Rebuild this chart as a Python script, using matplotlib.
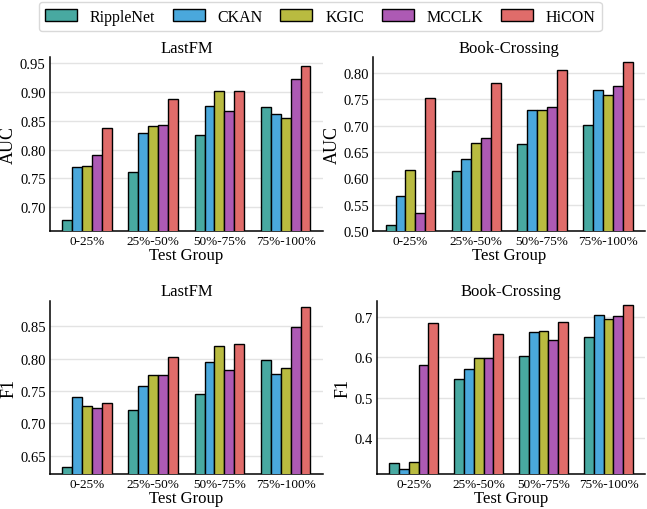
import matplotlib
matplotlib.use("Agg")
import matplotlib.pyplot as plt
import numpy as np

plt.rcParams["font.family"] = ["Liberation Serif", "DejaVu Serif"]

groups = ["0-25%", "25%-50%", "50%-75%", "75%-100%"]
models = ["RippleNet", "CKAN", "KGIC", "MCCLK", "HiCON"]
colors = ["#48a9a1", "#4aa8dc", "#b9bb40", "#ad5ab4", "#e06c6a"]

# values per model, one entry per test group
lastfm_auc = {
    "RippleNet": [0.678, 0.761, 0.826, 0.873],
    "CKAN": [0.770, 0.828, 0.876, 0.861],
    "KGIC": [0.772, 0.841, 0.901, 0.855],
    "MCCLK": [0.790, 0.843, 0.867, 0.922],
    "HiCON": [0.837, 0.887, 0.901, 0.945],
}
book_auc = {
    "RippleNet": [0.512, 0.614, 0.665, 0.702],
    "CKAN": [0.567, 0.636, 0.729, 0.768],
    "KGIC": [0.616, 0.668, 0.730, 0.758],
    "MCCLK": [0.535, 0.677, 0.736, 0.776],
    "HiCON": [0.753, 0.781, 0.805, 0.820],
}
lastfm_f1 = {
    "RippleNet": [0.632, 0.720, 0.745, 0.798],
    "CKAN": [0.740, 0.757, 0.794, 0.776],
    "KGIC": [0.727, 0.774, 0.820, 0.786],
    "MCCLK": [0.723, 0.774, 0.783, 0.849],
    "HiCON": [0.731, 0.803, 0.822, 0.880],
}
book_f1 = {
    "RippleNet": [0.337, 0.547, 0.604, 0.651],
    "CKAN": [0.322, 0.571, 0.664, 0.706],
    "KGIC": [0.341, 0.599, 0.665, 0.694],
    "MCCLK": [0.581, 0.599, 0.643, 0.702],
    "HiCON": [0.684, 0.658, 0.688, 0.729],
}

panels = [
    ("LastFM", "AUC", lastfm_auc, (0.659, 0.960), [0.70, 0.75, 0.80, 0.85, 0.90, 0.95], "{:.2f}"),
    ("Book-Crossing", "AUC", book_auc, (0.50, 0.830), [0.50, 0.55, 0.60, 0.65, 0.70, 0.75, 0.80], "{:.2f}"),
    ("LastFM", "F1", lastfm_f1, (0.622, 0.889), [0.65, 0.70, 0.75, 0.80, 0.85], "{:.2f}"),
    ("Book-Crossing", "F1", book_f1, (0.311, 0.740), [0.4, 0.5, 0.6, 0.7], "{:.1f}"),
]
# axes rectangles in figure fractions
positions = [
    [0.077, 0.545, 0.422, 0.341],
    [0.577, 0.545, 0.420, 0.341],
    [0.077, 0.069, 0.422, 0.339],
    [0.583, 0.069, 0.414, 0.339],
]

fig = plt.figure(figsize=(6.47, 5.10), dpi=100)
x = np.arange(len(groups))
width = 0.15

handles = []
for (title, ylabel, data, ylim, yticks, fmt), pos in zip(panels, positions):
    ax = fig.add_axes(pos)
    for j, m in enumerate(models):
        bars = ax.bar(x + (j - 2) * width, data[m], width, color=colors[j],
                      edgecolor="black", linewidth=1.0, label=m, zorder=3)
        if len(handles) < len(models):
            handles.append(bars)
    ax.set_ylim(*ylim)
    ax.set_yticks(yticks)
    ax.set_yticklabels([fmt.format(v) for v in yticks])
    ax.set_xticks(x)
    ax.set_xticklabels(groups)
    ax.tick_params(axis="both", length=0, pad=3)
    ax.tick_params(axis="y", labelsize=10.5)
    ax.tick_params(axis="x", labelsize=9.5)
    ax.grid(axis="y", color="#e3e3e3", linewidth=1.0, zorder=0)
    ax.set_axisbelow(True)
    for side in ["top", "right"]:
        ax.spines[side].set_visible(False)
    for side in ["left", "bottom"]:
        ax.spines[side].set_color("black")
        ax.spines[side].set_linewidth(1.1)
    ax.set_title(title, fontsize=12, pad=4)
    ax.set_ylabel(ylabel, fontsize=13, labelpad=2)
    ax.set_xlabel("Test Group", fontsize=12, labelpad=0)

leg = fig.legend(handles, models, loc="upper center", bbox_to_anchor=(0.495, 1.0),
                 ncol=5, fontsize=11.5, frameon=True, columnspacing=1.1,
                 handlelength=2.0, handletextpad=0.8, borderaxespad=0.2)
leg.get_frame().set_edgecolor("#d0d0d0")

fig.savefig("out.png", dpi=100)
plt.close(fig)
